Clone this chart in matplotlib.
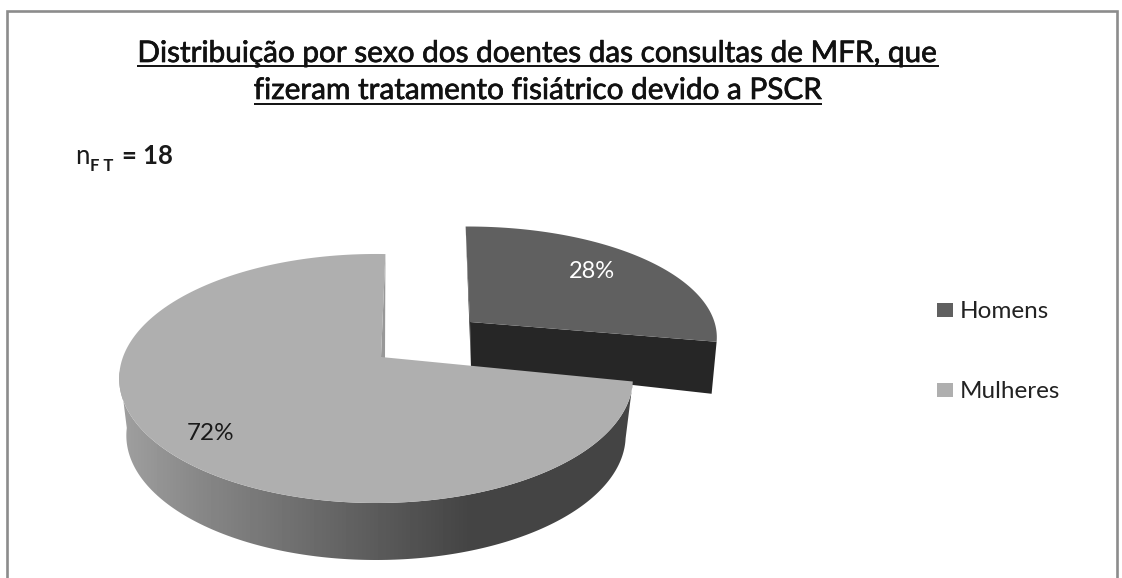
import matplotlib
matplotlib.use('Agg')
import matplotlib.pyplot as plt
import matplotlib.patheffects as pe
import numpy as np
from matplotlib.patches import Polygon, Rectangle

categories = ['Homens', 'Mulheres']
shares = [28, 72]
share_labels = ['28%', '72%']
title_lines = ['Distribuição por sexo dos doentes das consultas de MFR, que',
               'fizeram tratamento fisiátrico devido a PSCR']

plt.rcParams['font.family'] = ['Lato', 'DejaVu Sans']

COL_MEN = '#606060'
COL_MEN_DARK = '#262626'
COL_WOMEN = '#afafaf'
TEXT = '#1a1a1a'
ROT = 1.5
PERSP = 0.1726


def rim(deg, cx, ay, rx, ry):
    # pie angle (clockwise from top) to pixel position, with some perspective
    t = np.radians(np.asarray(deg, dtype=float) + ROT)
    u, v = np.sin(t), np.cos(t)
    w = 1 + PERSP * v
    return cx + rx * u / w, ay - ry * v / w


fig = plt.figure(figsize=(11.22, 5.78), dpi=100)
ax = fig.add_axes([0, 0, 1, 1])
ax.set_xlim(0, 1122)
ax.set_ylim(578, 0)
ax.axis('off')

# frame, the bottom edge is cut off in the picture
ax.plot([7, 7, 1117, 1117], [578, 10.5, 10.5, 578], color='#8c8c8c', lw=1.9,
        solid_joinstyle='miter')

end_men = shares[0] / sum(shares) * 360

# Homens slice, pulled out
cx, ay, rx, ry = 461, 322, 252, 112
apex = (470, ay)
a = np.linspace(0, end_men, 120)
xs, ys = rim(a, cx, ay, rx, ry)
xs = xs + np.linspace(-1, 0, len(xs))
ys = ys + np.linspace(0, -5, len(ys))
bottom_apex = (471, ay + 45)
ax.add_patch(Polygon([(xs[0], ys[0]), apex, bottom_apex], color=COL_MEN_DARK, lw=0))
ax.add_patch(Polygon([apex, (xs[-1], ys[-1]), (xs[-1] - 5, ys[-1] + 52), bottom_apex],
                     color=COL_MEN_DARK, lw=0))
ax.add_patch(Polygon(np.vstack([[apex], np.c_[xs, ys]]), color=COL_MEN, lw=0))

# Mulheres side wall with the shading going dark to the right
cx, ay, rx, ry, depth = 376, 357, 253, 120.8, 57
apex = (381, ay)
a = np.linspace(end_men - 1, 262, 200)
xs, ys = rim(a, cx, ay, rx, ry)
xb = cx + (xs - cx) * 0.972
yb = ys + depth
wall = Polygon(np.vstack([np.c_[xs, ys], np.c_[xb, yb][::-1]]), transform=ax.transData, lw=0,
               fc='none')
ax.add_patch(wall)
grad_x = np.arange(110, 640)
grad_v = np.interp(grad_x, [119, 200, 300, 400, 470, 640], [160, 135, 110, 85, 68, 68])
im = ax.imshow(grad_v[None, :], extent=(110, 640, 570, 370), cmap='gray', vmin=0, vmax=255,
               aspect='auto', zorder=2)
im.set_clip_path(wall)
ax.set_xlim(0, 1122)
ax.set_ylim(578, 0)

# Mulheres top face
a = np.linspace(end_men - 1, 361, 300)
xs, ys = rim(a, cx, ay, rx, ry)
ax.add_patch(Polygon([apex, (xs[-1], ys[-1]), (apex[0] + 4, apex[1] + 3)], color='#989898',
                     lw=0, zorder=3))
ax.add_patch(Polygon(np.vstack([[apex], np.c_[xs, ys]]), color=COL_WOMEN, lw=0, zorder=3))

ax.text(592, 272, share_labels[0], color='white', fontsize=17, ha='center', va='center', zorder=4)
ax.text(211, 434, share_labels[1], color=TEXT, fontsize=17.5, ha='center', va='center', zorder=4)

# title with underlines
fig.canvas.draw()
rend = fig.canvas.get_renderer()
for line, base, under in zip(title_lines, [62, 99], [65.5, 103.5]):
    t = ax.text(538, base, line, fontsize=21.4, color='#111111', ha='center', va='baseline',
                path_effects=[pe.withStroke(linewidth=0.5, foreground='#111111')])
    bb = t.get_window_extent(rend)
    ax.plot([bb.x0, bb.x1], [under, under], color='#111111', lw=1.4, solid_capstyle='butt')

# sample size note
ax.text(75, 164, 'n', fontsize=18.5, color=TEXT, va='baseline')
ax.text(90, 171, 'F T', fontsize=12, color=TEXT, fontweight='bold', va='baseline')
ax.text(122, 164, '= 18', fontsize=18.5, color=TEXT, fontweight='bold', va='baseline')

# legend
for name, col, y in zip(categories, [COL_MEN, COL_WOMEN], [310, 390]):
    ax.add_patch(Rectangle((937, y - 7), 16, 14, color=col, lw=0))
    ax.text(960, y + 1, name, fontsize=17.5, color='#222222', va='center')

fig.savefig('out.png', dpi=100)
